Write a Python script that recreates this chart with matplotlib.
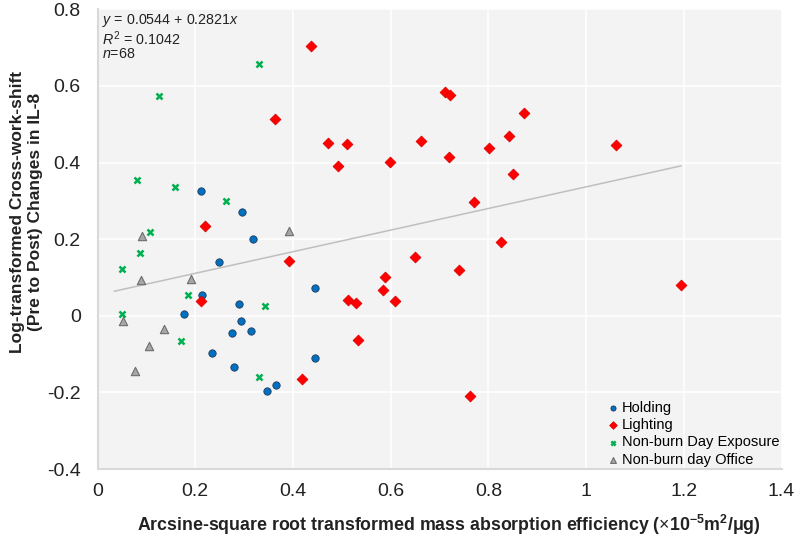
import matplotlib
matplotlib.use("Agg")
import matplotlib.pyplot as plt
import numpy as np

plt.rcParams['font.family'] = ['Liberation Sans', 'DejaVu Sans']
plt.rcParams['mathtext.fontset'] = 'custom'
plt.rcParams['mathtext.rm'] = 'Liberation Sans'
plt.rcParams['mathtext.it'] = 'Liberation Sans:italic'
plt.rcParams['mathtext.bf'] = 'Liberation Sans:bold'

# Holding
holding_x = [0.211, 0.296, 0.319, 0.249, 0.213, 0.176, 0.289, 0.293, 0.275, 0.314,
             0.235, 0.280, 0.346, 0.365, 0.446, 0.446]
holding_y = [0.326, 0.271, 0.201, 0.140, 0.055, 0.004, 0.031, -0.013, -0.046, -0.039,
             -0.098, -0.135, -0.196, -0.182, 0.072, -0.109]

# Lighting
lighting_x = [0.4375, 0.364, 0.471, 0.510, 0.4915, 0.5985, 0.220, 0.392, 0.588, 0.650,
              0.711, 0.722, 0.872, 0.6626, 0.8427, 0.8017, 0.7186, 0.8496, 1.0616, 0.770,
              0.8257, 0.740, 0.2125, 0.419, 0.512, 0.530, 0.584, 0.609, 0.5337, 1.194, 0.762]
lighting_y = [0.7035, 0.513, 0.451, 0.4485, 0.390, 0.402, 0.234, 0.144, 0.102, 0.153,
              0.584, 0.576, 0.5295, 0.456, 0.4686, 0.437, 0.4137, 0.371, 0.445, 0.296,
              0.1937, 0.1196, 0.0396, -0.165, 0.042, 0.0326, 0.068, 0.038, -0.063, 0.080, -0.210]

# Non-burn Day Exposure
exposure_x = [0.331, 0.1265, 0.0815, 0.158, 0.2636, 0.107, 0.0863, 0.0495, 0.0495,
              0.1846, 0.171, 0.3427, 0.330]
exposure_y = [0.656, 0.573, 0.354, 0.337, 0.300, 0.218, 0.163, 0.123, 0.004,
              0.055, -0.065, 0.025, -0.161]

# Non-burn day Office
office_x = [0.091, 0.3925, 0.089, 0.192, 0.052, 0.136, 0.105, 0.0767]
office_y = [0.207, 0.2206, 0.0927, 0.096, -0.0126, -0.0335, -0.078, -0.144]

intercept = 0.0544
slope = 0.2821
r2 = 0.1042
n_obs = 68

x_ticks = [0, 0.2, 0.4, 0.6, 0.8, 1.0, 1.2, 1.4]
x_ticklabels = ['0', '0.2', '0.4', '0.6', '0.8', '1', '1.2', '1.4']
y_ticks = [-0.4, -0.2, 0, 0.2, 0.4, 0.6, 0.8]
y_ticklabels = ['-0.4', '-0.2', '0', '0.2', '0.4', '0.6', '0.8']

fig = plt.figure(figsize=(8, 5.37), dpi=100)
ax = fig.add_axes([0.1219, 0.1266, 0.977 - 0.1219, 0.9827 - 0.1266])
ax.set_facecolor('#F3F3F3')
ax.set_xlim(0, 1.4)
ax.set_ylim(-0.4, 0.8)
ax.set_xticks(x_ticks)
ax.set_xticklabels(x_ticklabels)
ax.set_yticks(y_ticks)
ax.set_yticklabels(y_ticklabels)
ax.grid(True, color='white', linewidth=1.2)
ax.set_axisbelow(True)
ax.tick_params(axis='both', length=0, labelsize=14, colors='#222222')
ax.tick_params(axis='y', pad=12)
ax.tick_params(axis='x', pad=10)
for s in ['top', 'right']:
    ax.spines[s].set_visible(False)
for s in ['left', 'bottom']:
    ax.spines[s].set_color('#D9D9D9')
    ax.spines[s].set_linewidth(1.5)

all_x = np.array(holding_x + lighting_x + exposure_x + office_x)
tx = np.array([all_x.min() - 0.015, all_x.max()])
ax.plot(tx, intercept + slope * tx, color='#BFBFBF', linewidth=1.1, zorder=2)

ax.scatter(holding_x, holding_y, marker='o', s=28, color='#0070C0',
           edgecolors='#1F3A60', linewidths=0.6, zorder=3, label='Holding')
ax.scatter(lighting_x, lighting_y, marker='D', s=30, color='#FF0000',
           edgecolors='#E00000', linewidths=0.6, zorder=3, label='Lighting')
ax.scatter(exposure_x, exposure_y, marker='x', s=19, color='#00B050',
           linewidths=1.8, zorder=3, label='Non-burn Day Exposure')
ax.scatter(office_x, office_y, marker='^', s=36, color='#A6A6A6',
           edgecolors='#6E6E6E', linewidths=0.8, zorder=3, label='Non-burn day Office')

leg = ax.legend(loc='lower right', bbox_to_anchor=(1.01, -0.014), frameon=False,
                fontsize=10.5, handletextpad=0.0, labelspacing=0.22,
                borderaxespad=0.2, markerscale=0.7, handlelength=1.3)

ax.text(0.006, 0.8934,
        f"$y$ = {intercept:.4f} + {slope:.4f}$x$\n$R^{{2}}$ = {r2:.4f}\n$n$={n_obs}",
        transform=ax.transAxes, ha='left', va='baseline', fontsize=10.3,
        linespacing=0.98, color='#222222', multialignment='left')

ax.set_xlabel(r'Arcsine-square root transformed mass absorption efficiency ($\times$10$^{\mathbf{-5}}$m$^{\mathbf{2}}$/$\mathbf{\mu}$g)',
              fontsize=12.8, fontweight='bold', color='#222222')
ax.xaxis.set_label_coords(0.514, -0.095)
ax.set_ylabel('Log-transformed Cross-work-shift\n(Pre to Post) Changes in IL-8',
              fontsize=12.5, fontweight='bold', color='#222222')
ax.yaxis.set_label_coords(-0.080, 0.559)

fig.savefig('out.png', dpi=100)
